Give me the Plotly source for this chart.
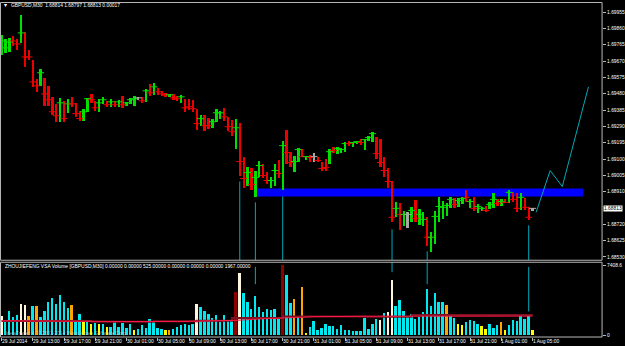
import plotly.graph_objects as go

# ---------------- data ----------------
symbol_title = "GBPUSD,M30  1.68814 1.68797 1.68813 0.00017"
ind_title = "ZHOUJIEFENG VSA Volume [GBPUSD,M30] 0.00000 0.00000 525.00000 0.00000 0.00000 0.00000 1967.00000"
watermark = "MetaTrader 4, \u00a9 2001-2014 MetaQuotes Software Corp."

high = [1.69822, 1.69798, 1.69804, 1.69816, 1.69798, 1.69938, 1.69839, 1.69735, 1.69677, 1.69566,
        1.69624, 1.69572, 1.69526, 1.69462, 1.69421, 1.69456, 1.69439, 1.69451, 1.69462, 1.69427,
        1.69381, 1.69393, 1.69456, 1.69479, 1.69439, 1.69451, 1.69462, 1.69439, 1.69451, 1.69439,
        1.69445, 1.69468, 1.69433, 1.69456, 1.69468, 1.69462, 1.69462, 1.69508, 1.69537, 1.69543,
        1.69514, 1.69497, 1.69485, 1.69479, 1.69479, 1.69468, 1.69474, 1.69451, 1.69451, 1.69445,
        1.69393, 1.69358, 1.69358, 1.69340, 1.69335, 1.69393, 1.69381, 1.69398, 1.69346, 1.69329,
        1.69335, 1.69312, 1.69109, 1.69051, 1.69045, 1.69033, 1.69091, 1.69074, 1.69022, 1.68993,
        1.69074, 1.69097, 1.69207, 1.69271, 1.69143, 1.69120, 1.69167, 1.69161, 1.69120, 1.69126,
        1.69138, 1.69114, 1.69085, 1.69103, 1.69161, 1.69172, 1.69172, 1.69167, 1.69201, 1.69207,
        1.69201, 1.69207, 1.69219, 1.69219, 1.69236, 1.69259, 1.69230, 1.69219, 1.69109, 1.69045,
        1.68975, 1.68848, 1.68842, 1.68795, 1.68790, 1.68819, 1.68859, 1.68807, 1.68790, 1.68761,
        1.68674, 1.68795, 1.68877, 1.68853, 1.68842, 1.68877, 1.68871, 1.68871, 1.68877, 1.68917,
        1.68865, 1.68882, 1.68836, 1.68819, 1.68824, 1.68848, 1.68900, 1.68865, 1.68865, 1.68865,
        1.68917, 1.68911, 1.68900, 1.68900, 1.68871, 1.68819, 1.68814]
low = [1.69706, 1.69717, 1.69723, 1.69758, 1.69735, 1.69775, 1.69636, 1.69677, 1.69520, 1.69491,
       1.69526, 1.69410, 1.69410, 1.69358, 1.69317, 1.69317, 1.69317, 1.69369, 1.69404, 1.69346,
       1.69323, 1.69323, 1.69375, 1.69427, 1.69381, 1.69375, 1.69421, 1.69404, 1.69404, 1.69404,
       1.69404, 1.69398, 1.69410, 1.69421, 1.69410, 1.69445, 1.69427, 1.69433, 1.69468, 1.69474,
       1.69474, 1.69468, 1.69462, 1.69462, 1.69445, 1.69439, 1.69427, 1.69375, 1.69387, 1.69375,
       1.69271, 1.69294, 1.69265, 1.69277, 1.69282, 1.69317, 1.69335, 1.69323, 1.69265, 1.69236,
       1.69161, 1.69004, 1.68934, 1.68946, 1.68917, 1.68877, 1.68993, 1.68987, 1.68952, 1.68929,
       1.68946, 1.68987, 1.68917, 1.69074, 1.69051, 1.69022, 1.69080, 1.69109, 1.69097, 1.69085,
       1.69085, 1.69080, 1.69033, 1.69033, 1.69074, 1.69138, 1.69132, 1.69138, 1.69143, 1.69178,
       1.69172, 1.69190, 1.69184, 1.69155, 1.69207, 1.69201, 1.69103, 1.69051, 1.68998, 1.68934,
       1.68732, 1.68761, 1.68685, 1.68708, 1.68697, 1.68732, 1.68732, 1.68714, 1.68708, 1.68592,
       1.68558, 1.68604, 1.68732, 1.68749, 1.68766, 1.68813, 1.68813, 1.68819, 1.68836, 1.68848,
       1.68813, 1.68795, 1.68784, 1.68795, 1.68790, 1.68807, 1.68813, 1.68824, 1.68824, 1.68842,
       1.68842, 1.68848, 1.68790, 1.68801, 1.68801, 1.68743, 1.68797]
close = [1.69787, 1.69747, 1.69781, 1.69787, 1.69770, 1.69834, 1.69694, 1.69694, 1.69549, 1.69526,
         1.69602, 1.69479, 1.69445, 1.69375, 1.69352, 1.69427, 1.69335, 1.69421, 1.69421, 1.69364,
         1.69335, 1.69375, 1.69451, 1.69445, 1.69398, 1.69427, 1.69445, 1.69416, 1.69433, 1.69416,
         1.69433, 1.69416, 1.69427, 1.69445, 1.69451, 1.69456, 1.69439, 1.69497, 1.69485, 1.69520,
         1.69491, 1.69479, 1.69474, 1.69474, 1.69456, 1.69451, 1.69462, 1.69398, 1.69404, 1.69393,
         1.69306, 1.69335, 1.69294, 1.69294, 1.69317, 1.69369, 1.69369, 1.69346, 1.69288, 1.69259,
         1.69282, 1.69085, 1.68987, 1.69022, 1.68952, 1.68993, 1.69062, 1.69004, 1.68975, 1.68975,
         1.69033, 1.69016, 1.69178, 1.69138, 1.69080, 1.69085, 1.69155, 1.69114, 1.69114, 1.69109,
         1.69114, 1.69091, 1.69045, 1.69051, 1.69143, 1.69149, 1.69161, 1.69155, 1.69190, 1.69190,
         1.69196, 1.69201, 1.69196, 1.69213, 1.69225, 1.69248, 1.69132, 1.69080, 1.69033, 1.68969,
         1.68761, 1.68813, 1.68778, 1.68778, 1.68778, 1.68801, 1.68755, 1.68778, 1.68749, 1.68645,
         1.68645, 1.68766, 1.68824, 1.68819, 1.68830, 1.68865, 1.68836, 1.68859, 1.68871, 1.68877,
         1.68853, 1.68813, 1.68824, 1.68813, 1.68801, 1.68836, 1.68865, 1.68842, 1.68853, 1.68848,
         1.68906, 1.68865, 1.68813, 1.68877, 1.68819, 1.68761, 1.68813]
bar_dir = ("GGGRRGRRRR" "GRRRRGRGRR" "RGGRRGGRGR" "GRGGGNRGRG" "RRRGRRGRRR" "RGRRGGGRRR"
           "GRRGRGGRRG" "GRGRRGGRGR" "NRRRGRGGGR" "GGRGGGRRRR" "RGRGNGRGGR" "GGGGGGRGGR"
           "GRGGRGGRGR" "GRRGRRN")

volume = [1967, 1516, 2574, 1869, 2116, 3280, 3174, 2045, 3033, 3033,
          1939, 2504, 3456, 3915, 3280, 4232, 3456, 2822, 3174, 1516,
          2222, 1340, 1587, 1164, 1270, 1093, 1164, 811, 811, 1410,
          811, 1270, 741, 1164, 458, 635, 987, 741, 1693, 1340,
          741, 635, 529, 529, 635, 811, 987, 1164, 1058, 1164,
          3280, 2927, 2504, 2222, 1799, 2151, 1340, 2116, 1516, 1587,
          4585, 6560, 4444, 3527, 2751, 4161, 2927, 2398, 2751, 2680,
          2751, 1799, 7408, 6348, 3351, 3809, 1869, 5043, 212, 811,
          1516, 529, 741, 1164, 881, 881, 635, 1058, 529, 458,
          423, 423, 423, 1799, 635, 1164, 1693, 1587, 2328, 2469,
          5854, 3103, 3703, 2574, 1939, 2222, 1693, 1939, 2469, 4867,
          3103, 4444, 3456, 3456, 3209, 2151, 1799, 1164, 1058, 1340,
          1587, 1516, 1093, 881, 635, 1164, 741, 1058, 1410, 529,
          1058, 1587, 1446, 1975, 1658, 2045, 458]
vol_type = ("WCCCCWWOCO" "CCCCCCCCOC" "CYCYCYCYCC" "CCCCYCCCCC" "CCYOCCCCCC" "WCCCCCCCCC"
            "DWCCCCCCCC" "CCDCCOCOYC" "CCCCCCCCCC" "CCCCCCCWCW" "WCCCCCCCCC" "CCCCOCCYYC"
            "CCCYYCCCOY" "CCCCCCY")

# volume average lines (sampled where read)
ma_idx = [0, 20, 30, 45, 55, 60, 66, 72, 80, 96, 112, 124, 136]
ma_val = [1513, 1513, 1440, 1430, 1500, 1560, 1700, 1800, 1950, 2000, 2040, 2000, 2010]
ma2_idx = [0, 23, 39, 50, 59, 72, 93, 105, 136]
ma2_val = [1480, 1407, 1450, 1520, 1800, 1975, 1940, 2116, 2116]

# signal lines (bar index, price where the line starts)
sig_bars = [61, 65, 72, 100, 109, 135]
sig_price = [1.68969, 1.68848, 1.68882, 1.68691, 1.68563, 1.68714]
vsig_bars = [65, 100, 109, 135]
vsig_top = [7226, 7723, 7723, 7226]
vsig_bot = [5396, 6665, 5396, 2507]

# drawn objects
zone_x = [65, 148.9]
zone_price = [1.68882, 1.68929]
proj_x = [136.9, 140.5, 143.6, 150.3]
proj_price = [1.68790, 1.69033, 1.68940, 1.69520]

price_ticks = [1.69955, 1.69860, 1.69765, 1.69670, 1.69575, 1.69480, 1.69385, 1.69290,
               1.69195, 1.69100, 1.69005, 1.68910, 1.68720, 1.68625, 1.68530]
last_price = 1.68813
vol_ticks = [0, 7408.6]
vol_tick_text = ["0", "7408.6"]

time_idx = [0, 8, 16, 24, 32, 40, 48, 56, 64, 72, 80, 88, 96, 104, 112, 120, 128, 136]
time_text = ["29 Jul 2014", "29 Jul 13:00", "29 Jul 17:00", "29 Jul 21:00", "30 Jul 01:00",
             "30 Jul 05:00", "30 Jul 09:00", "30 Jul 13:00", "30 Jul 17:00", "30 Jul 21:00",
             "31 Jul 01:00", "31 Jul 05:00", "31 Jul 09:00", "31 Jul 13:00", "31 Jul 17:00",
             "31 Jul 21:00", "1 Aug 01:00", "1 Aug 05:00"]

# ---------------- styling / layout ----------------
W, H = 625, 346
FONT = "Liberation Sans"
FS = 4.9
dir_color = {"G": "#00e000", "R": "#ee0000", "N": "#a8a8a8"}
vol_color = {"C": "#00e8f0", "W": "#fff6dc", "O": "#ffa500", "Y": "#ffff00", "D": "#8c0000"}
SIG = "#00a8b8"
FRAME = "#b8b8b8"

def fx(px):
    return px / W

def fy(py):
    return 1 - py / H

N = len(high)
xs = list(range(N))
bcols = [dir_color[c] for c in bar_dir]
vcols = [vol_color[c] for c in vol_type]

# axis ranges: bar i sits at pixel 1.6 + 3.917*i ; main panel y 3..261, volume panel 263..338
XR = [(1 - 1.6) / 3.917, (604 - 1.6) / 3.917]
YR = [1.68511, 1.70008]
VR = [-211.6, 7723.4]

fig = go.Figure()
fig.add_trace(go.Bar(x=xs, y=[h - l for h, l in zip(high, low)], base=low,
                     marker=dict(color=bcols, line=dict(width=0)), width=0.6,
                     xaxis="x", yaxis="y", hoverinfo="skip"))
fig.add_trace(go.Scatter(x=xs, y=close, mode="markers", xaxis="x", yaxis="y",
                         marker=dict(symbol="line-ew", size=5, color=bcols,
                                     line=dict(width=1, color=bcols)), hoverinfo="skip"))
sx, sy = [], []
for b, p in zip(sig_bars, sig_price):
    sx += [b, b, None]
    sy += [p, YR[0], None]
fig.add_trace(go.Scatter(x=sx, y=sy, mode="lines", line=dict(color=SIG, width=1),
                         xaxis="x", yaxis="y", hoverinfo="skip"))
fig.add_trace(go.Scatter(x=proj_x, y=proj_price, mode="lines", line=dict(color=SIG, width=1),
                         xaxis="x", yaxis="y", hoverinfo="skip"))

fig.add_trace(go.Bar(x=xs, y=volume, marker=dict(color=vcols, line=dict(width=0)), width=0.5,
                     xaxis="x2", yaxis="y2", hoverinfo="skip"))
fig.add_trace(go.Scatter(x=ma2_idx, y=ma2_val, mode="lines", line=dict(color="#7a1020", width=2, shape="hv"),
                         xaxis="x2", yaxis="y2", hoverinfo="skip"))
fig.add_trace(go.Scatter(x=ma_idx, y=ma_val, mode="lines", line=dict(color="#ff1a46", width=1),
                         xaxis="x2", yaxis="y2", hoverinfo="skip"))
vx, vy = [], []
for b, t, bt in zip(vsig_bars, vsig_top, vsig_bot):
    vx += [b, b, None]
    vy += [t, bt, None]
fig.add_trace(go.Scatter(x=vx, y=vy, mode="lines", line=dict(color=SIG, width=1),
                         xaxis="x2", yaxis="y2", hoverinfo="skip"))

shapes = [
    dict(type="rect", xref="x", yref="y", x0=zone_x[0], x1=zone_x[1], y0=zone_price[0], y1=zone_price[1],
         fillcolor="#0000ff", line=dict(width=0), layer="below"),
    dict(type="rect", xref="paper", yref="paper", x0=fx(0.5), x1=fx(604), y0=fy(261), y1=fy(2.5),
         line=dict(color=FRAME, width=1)),
    dict(type="rect", xref="paper", yref="paper", x0=fx(0.5), x1=fx(604), y0=fy(338), y1=fy(263),
         line=dict(color=FRAME, width=1)),
]

ann = [
    dict(text="\u25be", xref="paper", yref="paper", x=fx(2), y=fy(5.5), xanchor="left", yanchor="middle",
         showarrow=False, font=dict(color="#ffffff", size=6, family=FONT)),
    dict(text=symbol_title, xref="paper", yref="paper", x=fx(9), y=fy(5.5), xanchor="left", yanchor="middle",
         showarrow=False, font=dict(color="#ffffff", size=FS, family=FONT)),
    dict(text=ind_title, xref="paper", yref="paper", x=fx(3), y=fy(267), xanchor="left", yanchor="middle",
         showarrow=False, font=dict(color="#ffffff", size=FS, family=FONT)),
    dict(text=watermark, xref="paper", yref="paper", x=fx(3), y=fy(333.5), xanchor="left", yanchor="middle",
         showarrow=False, font=dict(color="rgba(210,210,210,0.75)", size=FS, family=FONT)),
    dict(text=f"{last_price:.5f}", xref="paper", yref="y", x=fx(605), y=last_price, xanchor="left",
         yanchor="middle", showarrow=False, bgcolor="#ffffff", borderpad=0,
         font=dict(color="#000000", size=FS, family=FONT)),
]
for i, t in zip(time_idx, time_text):
    ann.append(dict(text=t, xref="x2", yref="paper", x=i, y=fy(342.5), xanchor="left", yanchor="middle",
                    xshift=-2, showarrow=False, font=dict(color="#ffffff", size=FS, family=FONT)))

fig.update_layout(
    width=W, height=H, autosize=False,
    margin=dict(l=0, r=0, t=0, b=0, pad=0),
    paper_bgcolor="#000000", plot_bgcolor="#000000",
    showlegend=False, barmode="overlay", bargap=0,
    shapes=shapes, annotations=ann,
    xaxis=dict(domain=[fx(1), fx(604)], range=XR, anchor="y", showgrid=False, zeroline=False,
               showticklabels=False, ticks="", showline=False, fixedrange=True),
    xaxis2=dict(domain=[fx(1), fx(604)], range=XR, anchor="y2", matches="x", showgrid=False,
                zeroline=False, showticklabels=False, tickmode="array", tickvals=time_idx,
                ticks="outside", ticklen=3, tickcolor=FRAME, showline=False),
    yaxis=dict(domain=[fy(261), fy(3)], range=YR, anchor="x", side="right", showgrid=False,
               zeroline=False, tickmode="array", tickvals=price_ticks,
               ticktext=[f"{v:.5f}" for v in price_ticks], ticks="outside", ticklen=3,
               tickcolor=FRAME, tickfont=dict(color="#ffffff", size=FS, family=FONT),
               showline=False),
    yaxis2=dict(domain=[fy(338), fy(263)], range=VR, anchor="x2", side="right", showgrid=False,
                zeroline=False, tickmode="array", tickvals=vol_ticks, ticktext=vol_tick_text,
                ticks="outside", ticklen=3, tickcolor=FRAME,
                tickfont=dict(color="#ffffff", size=FS, family=FONT), showline=False),
)

fig.write_html("out.html")
